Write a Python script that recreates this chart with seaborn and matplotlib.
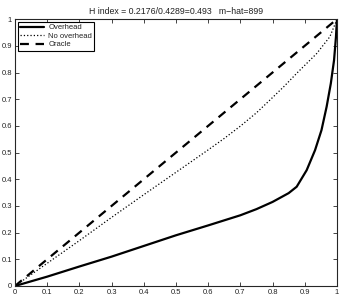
import numpy as np
import pandas as pd
import seaborn as sns
import matplotlib
matplotlib.use("Agg")
import matplotlib.pyplot as plt
from matplotlib.ticker import FuncFormatter

title = "H index = 0.2176/0.4289=0.493   m\u2212hat=899"

overhead_x = [0, 0.1, 0.2, 0.3, 0.4, 0.5, 0.6, 0.7, 0.75, 0.8, 0.85, 0.875,
              0.906, 0.932, 0.952, 0.968, 0.981, 0.991, 0.997, 1.0]
overhead_y = [0, 0.035, 0.073, 0.11, 0.15, 0.19, 0.227, 0.265, 0.288, 0.315,
              0.348, 0.372, 0.434, 0.509, 0.584, 0.672, 0.759, 0.846, 0.934, 1.0]

no_overhead_x = [0, 0.1, 0.2, 0.3, 0.4, 0.5, 0.6, 0.65, 0.7, 0.75, 0.792, 0.835,
                 0.875, 0.937, 0.978, 0.997, 1.0]
no_overhead_y = [0, 0.085, 0.17, 0.257, 0.342, 0.426, 0.51, 0.553, 0.599, 0.649,
                 0.697, 0.747, 0.797, 0.871, 0.934, 0.99, 1.0]

oracle_x = [0, 1]
oracle_y = [0, 1]

frames = []
for name, xs, ys in [("Overhead", overhead_x, overhead_y),
                     ("No overhead", no_overhead_x, no_overhead_y),
                     ("Oracle", oracle_x, oracle_y)]:
    frames.append(pd.DataFrame({"x": xs, "y": ys, "curve": name}))
df = pd.concat(frames, ignore_index=True)

sns.set_style("ticks")
plt.rcParams['font.family'] = ['Liberation Sans', 'DejaVu Sans']

fig = plt.figure(figsize=(3.4, 2.99), dpi=100)
ax = fig.add_axes([0.044, 0.0435, 0.947, 0.8925])

styles = {"Overhead": (1.6, "-"), "No overhead": (0.9, ":"), "Oracle": (1.6, (0, (4, 3)))}
for name in ["Overhead", "No overhead", "Oracle"]:
    lw, ls = styles[name]
    sns.lineplot(data=df[df["curve"] == name], x="x", y="y", ax=ax,
                 color="black", linewidth=lw, linestyle=ls, label=name,
                 sort=False, estimator=None)

ax.set_xlim(0, 1)
ax.set_ylim(0, 1)
ax.set_xticks(np.arange(0, 1.01, 0.1))
ax.set_yticks(np.arange(0, 1.01, 0.1))
fmt = FuncFormatter(lambda v, p: f"{v:g}")
ax.xaxis.set_major_formatter(fmt)
ax.yaxis.set_major_formatter(fmt)
ax.tick_params(direction="in", length=3, width=0.6, labelsize=5.5, pad=2,
               top=True, right=True, labelcolor="#222222")
ax.set_xlabel("")
ax.set_ylabel("")
for s in ax.spines.values():
    s.set_linewidth(0.8)
ax.set_title(title, fontsize=6.3, pad=4, color="#222222")

leg = ax.legend(loc="upper left", fontsize=5.5, frameon=True, fancybox=False,
                borderpad=0.3, labelspacing=0.15, handlelength=3.2,
                handletextpad=0.5, borderaxespad=0.35)
leg.get_frame().set_edgecolor("black")
leg.get_frame().set_linewidth(0.8)
leg.get_frame().set_alpha(1)
for t in leg.get_texts():
    t.set_color("#222222")

fig.savefig("out.png", dpi=100)
